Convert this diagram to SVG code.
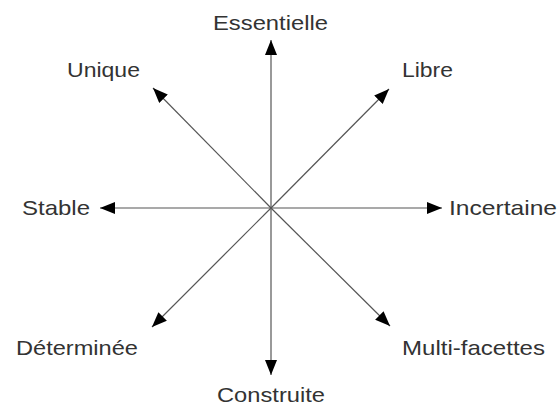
<svg xmlns="http://www.w3.org/2000/svg" width="559" height="409" viewBox="0 0 559 409">
<style>
.lbl{font-family:"Liberation Sans",Arial,sans-serif;font-size:21px;fill:#333}
.ln{stroke:#555;stroke-width:1.2;fill:none;marker-end:url(#ah)}
</style>
<defs>
<marker id="ah" markerUnits="userSpaceOnUse" markerWidth="15" markerHeight="12" refX="15" refY="6" orient="auto">
<path d="M0,0 L15,6 L0,12 z" fill="#000"/>
</marker>
</defs>
<rect width="559" height="409" fill="#fff"/>
<g id="connectors">
<line class="ln" x1="271" y1="208" x2="271" y2="40"/>
<line class="ln" x1="271" y1="208" x2="271" y2="375"/>
<line class="ln" x1="271" y1="208" x2="100" y2="208"/>
<line class="ln" x1="271" y1="208" x2="442" y2="208"/>
<line class="ln" x1="271" y1="208" x2="153" y2="88"/>
<line class="ln" x1="271" y1="208" x2="389" y2="89"/>
<line class="ln" x1="271" y1="208" x2="152" y2="327"/>
<line class="ln" x1="271" y1="208" x2="390" y2="326"/>
</g>
<g id="essentielle"><text class="lbl" x="213" y="30" textLength="115" lengthAdjust="spacingAndGlyphs">Essentielle</text></g>
<g id="unique"><text class="lbl" x="67" y="77" textLength="73" lengthAdjust="spacingAndGlyphs">Unique</text></g>
<g id="libre"><text class="lbl" x="402" y="77" textLength="51" lengthAdjust="spacingAndGlyphs">Libre</text></g>
<g id="stable"><text class="lbl" x="22" y="215" textLength="68" lengthAdjust="spacingAndGlyphs">Stable</text></g>
<g id="incertaine"><text class="lbl" x="449" y="215" textLength="108" lengthAdjust="spacingAndGlyphs">Incertaine</text></g>
<g id="determinee"><text class="lbl" x="16" y="355" textLength="122" lengthAdjust="spacingAndGlyphs">Déterminée</text></g>
<g id="multifacettes"><text class="lbl" x="402" y="355" textLength="143" lengthAdjust="spacingAndGlyphs">Multi-facettes</text></g>
<g id="construite"><text class="lbl" x="217" y="402" textLength="108" lengthAdjust="spacingAndGlyphs">Construite</text></g>
</svg>
